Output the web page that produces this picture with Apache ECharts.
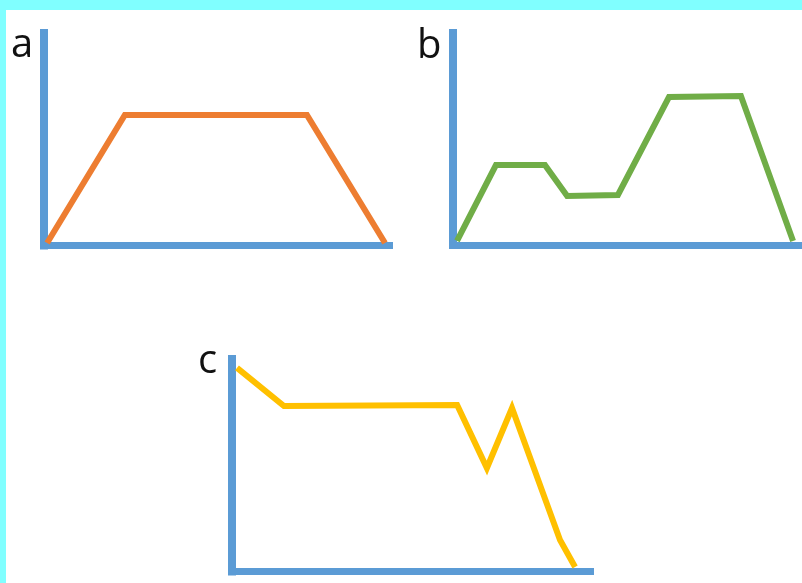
<!DOCTYPE html>
<html>
<head>
<meta charset="utf-8">
<script src="https://cdn.jsdelivr.net/npm/echarts@6/dist/echarts.min.js"></script>
<style>
html,body{margin:0;padding:0;background:#fff;}
#main{width:802px;height:583px;}
</style>
</head>
<body>
<div id="main"></div>
<script>
// Panel labels
const panelLabels = ['a', 'b', 'c'];
// Series values as [x, y] in 0-100 units
const seriesA = [[0.9, 1.2], [23.4, 61.4], [76.1, 61.4], [98.7, 1.2]];
const seriesB = [[1.3, 1.9], [12.5, 37.7], [26.6, 37.7], [33.0, 23.1], [47.6, 23.6], [62.3, 69.8], [83.0, 70.3], [98.0, 1.9]];
const seriesC = [[1.4, 95.8], [14.5, 77.9], [62.8, 78.4], [71.1, 48.7], [78.1, 76.9], [91.5, 14.8], [95.7, 2.1]];

const axisBlue = '#5B9BD5';
const colors = ['#ED7D31', '#70AD47', '#FFC000'];
const grids = [
  {left: 44, top: 33, width: 345.5, height: 212.5},
  {left: 452.5, top: 33, width: 347.5, height: 212},
  {left: 232, top: 359, width: 358.5, height: 212.5}
];
const labelPos = [[11, 26], [417, 27], [198, 342]];
const datas = [seriesA, seriesB, seriesC];

function xAxis(i) {
  return {type: 'value', gridIndex: i, min: 0, max: 100,
    axisLine: {show: true, onZero: false, lineStyle: {color: axisBlue, width: 7, cap: 'square'}},
    axisTick: {show: false}, axisLabel: {show: false}, splitLine: {show: false}};
}
function yAxis(i) {
  return {type: 'value', gridIndex: i, min: 0, max: 100,
    axisLine: {show: true, onZero: false, lineStyle: {color: axisBlue, width: 8, cap: 'square'}},
    axisTick: {show: false}, axisLabel: {show: false}, splitLine: {show: false}};
}

const chart = echarts.init(document.getElementById('main'), null, {renderer: 'canvas'});
chart.setOption({
  backgroundColor: '#ffffff',
  animation: false,
  grid: grids.map(g => Object.assign({containLabel: false}, g)),
  xAxis: [0, 1, 2].map(xAxis),
  yAxis: [0, 1, 2].map(yAxis),
  series: datas.map((d, i) => ({
    type: 'line', xAxisIndex: i, yAxisIndex: i, data: d,
    showSymbol: false, symbol: 'none', clip: false, z: 5,
    lineStyle: {color: colors[i], width: 6, join: 'miter'}
  })),
  graphic: [
    {type: 'rect', left: 0, top: 0, shape: {width: 802, height: 10}, style: {fill: '#80FFFF'}, z: 100},
    {type: 'rect', left: 0, top: 0, shape: {width: 6, height: 583}, style: {fill: '#80FFFF'}, z: 100}
  ].concat(panelLabels.map((t, i) => ({
    type: 'text', x: labelPos[i][0], y: labelPos[i][1], z: 100,
    style: {text: t, fill: '#111', font: '40px "Open Sans", sans-serif', verticalAlign: 'top', align: 'left'}
  })))
});
</script>
</body>
</html>
